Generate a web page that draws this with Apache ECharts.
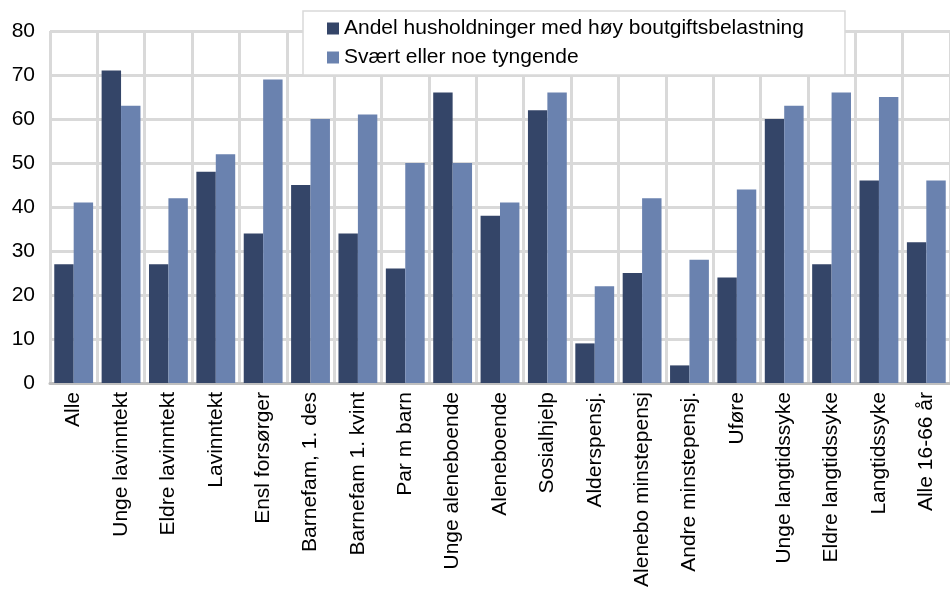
<!DOCTYPE html>
<html>
<head>
<meta charset="utf-8">
<script src="https://cdn.jsdelivr.net/npm/echarts@6/dist/echarts.min.js"></script>
<style>
  html, body { margin: 0; padding: 0; background: #fff; }
  #chart { width: 950px; height: 590px; }
</style>
</head>
<body>
<div id="chart"></div>
<script>
const categories = [
  'Alle', 'Unge lavinntekt', 'Eldre lavinntekt', 'Lavinntekt', 'Ensl forsørger',
  'Barnefam, 1. des', 'Barnefam 1. kvint', 'Par m barn', 'Unge aleneboende',
  'Aleneboende', 'Sosialhjelp', 'Alderspensj.', 'Alenebo minstepensj',
  'Andre minstepensj.', 'Uføre', 'Unge langtidssyke', 'Eldre langtidssyke',
  'Langtidssyke', 'Alle 16-66 år'
];
const seriesNames = ['Andel husholdninger med høy boutgiftsbelastning', 'Svært eller noe tyngende'];
const hoyBelastning = [27, 71, 27, 48, 34, 45, 34, 26, 66, 38, 62, 9, 25, 4, 24, 60, 27, 46, 32];
const tyngende = [41, 63, 42, 52, 69, 60, 61, 50, 50, 41, 66, 22, 42, 28, 44, 63, 66, 65, 46];
const yTicks = { min: 0, max: 80, interval: 10 };

const chart = echarts.init(document.getElementById('chart'));
const font = 'Liberation Sans, Arial, sans-serif';

chart.setOption({
  animation: false,
  color: ['#344568', '#6a82af'],
  textStyle: { fontFamily: font },
  legend: {
    data: seriesNames,
    orient: 'vertical',
    left: 303,
    top: 11,
    icon: 'rect',
    itemWidth: 12,
    itemHeight: 12,
    itemGap: 8,
    itemTextGap: 8,
    padding: [7, 41, 7, 24],
    backgroundColor: '#fff',
    borderColor: '#d9d9d9',
    borderWidth: 1.5,
    textStyle: { fontSize: 21, color: '#000', fontFamily: font }
  },
  grid: { left: 50, right: -14, top: 31, bottom: 207 },
  xAxis: {
    type: 'category',
    data: categories,
    axisLine: { lineStyle: { color: '#bfbfbf', width: 3 } },
    axisTick: { show: false },
    splitLine: { show: true, interval: 0, lineStyle: { color: '#d9d9d9', width: 3 } },
    axisLabel: { rotate: 90, interval: 0, margin: 9, fontSize: 21, color: '#000', fontFamily: font }
  },
  yAxis: {
    type: 'value',
    min: yTicks.min,
    max: yTicks.max,
    interval: yTicks.interval,
    axisLine: { show: false },
    axisTick: { show: false },
    splitLine: { lineStyle: { color: '#d9d9d9', width: 3 } },
    axisLabel: { margin: 15, fontSize: 21, color: '#000', fontFamily: font }
  },
  series: [
    { name: seriesNames[0], type: 'bar', data: hoyBelastning, barGap: '0%', barCategoryGap: '18%' },
    { name: seriesNames[1], type: 'bar', data: tyngende, barGap: '0%', barCategoryGap: '18%' }
  ]
});
</script>
</body>
</html>
